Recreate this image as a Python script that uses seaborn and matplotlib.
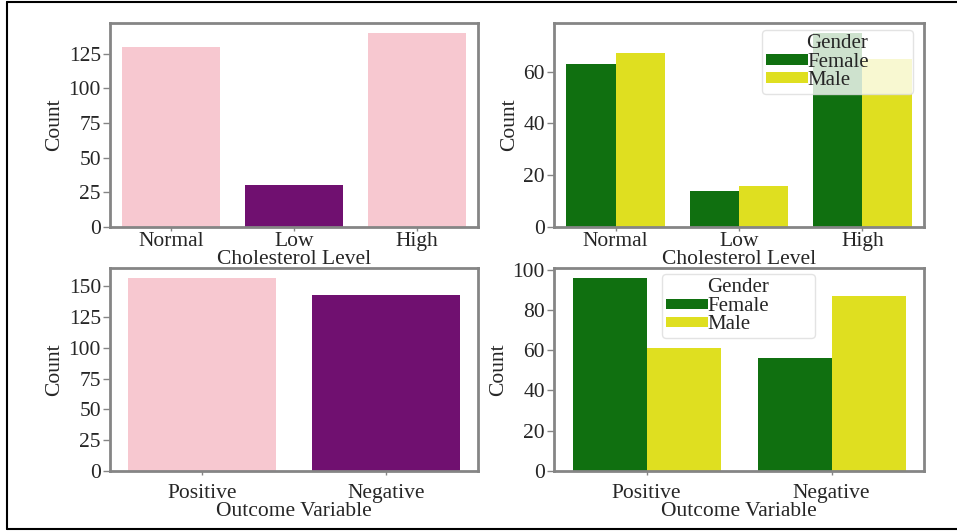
import matplotlib
matplotlib.use('Agg')
import matplotlib.pyplot as plt
import seaborn as sns
import pandas as pd
from matplotlib.lines import Line2D

# ---- data ----
chol_levels = ['Normal', 'Low', 'High']
chol_counts = [130, 30, 140]
genders = ['Female', 'Male']
chol_female = [63, 14, 75]
chol_male = [67, 16, 65]
outcomes = ['Positive', 'Negative']
outcome_counts = [157, 143]
outcome_female = [96, 56]
outcome_male = [61, 87]

sns.set_style('white')
plt.rcParams['font.family'] = ['Liberation Serif', 'DejaVu Serif']

FS = 15.5
SPINE = '#858585'

fig = plt.figure(figsize=(9.57, 5.31), dpi=100)
W, H = 957, 531


def ax_at(x0, y0, x1, y1):
    return fig.add_axes([x0 / W, 1 - y1 / H, (x1 - x0) / W, (y1 - y0) / H])


ax1 = ax_at(110, 23, 478, 227)
ax2 = ax_at(554, 23, 924, 227)
ax3 = ax_at(110, 268, 478, 471)
ax4 = ax_at(554, 268, 924, 471)

bar_kw = dict(linewidth=0, edgecolor='none')

df1 = pd.DataFrame({'Cholesterol Level': chol_levels, 'Count': chol_counts})
sns.barplot(data=df1, x='Cholesterol Level', y='Count', hue='Cholesterol Level',
            palette=['pink', 'purple', 'pink'], legend=False, ax=ax1, **bar_kw)

df2 = pd.DataFrame({
    'Cholesterol Level': chol_levels * 2,
    'Gender': [genders[0]] * 3 + [genders[1]] * 3,
    'Count': chol_female + chol_male,
})
sns.barplot(data=df2, x='Cholesterol Level', y='Count', hue='Gender',
            order=chol_levels, hue_order=genders,
            palette=['green', 'yellow'], ax=ax2, **bar_kw)

df3 = pd.DataFrame({'Outcome Variable': outcomes, 'Count': outcome_counts})
sns.barplot(data=df3, x='Outcome Variable', y='Count', hue='Outcome Variable',
            palette=['pink', 'purple'], legend=False, ax=ax3, **bar_kw)

df4 = pd.DataFrame({
    'Outcome Variable': outcomes * 2,
    'Gender': [genders[0]] * 2 + [genders[1]] * 2,
    'Count': outcome_female + outcome_male,
})
sns.barplot(data=df4, x='Outcome Variable', y='Count', hue='Gender',
            order=outcomes, hue_order=genders,
            palette=['green', 'yellow'], ax=ax4, **bar_kw)

ax1.set_yticks(range(0, 126, 25))
ax3.set_yticks(range(0, 151, 25))
ax2.set_yticks(range(0, 61, 20))
ax4.set_yticks(range(0, 101, 20))

leg_kw = dict(title='Gender', fontsize=15, title_fontsize=15, handlelength=2.0,
              handleheight=0.4, handletextpad=0.0, labelspacing=-0.05,
              framealpha=0.8, borderpad=0.2, borderaxespad=0.0, frameon=True,
              mode='expand', loc='upper left')
sns.move_legend(ax2, bbox_to_anchor=(0.562, 0.0, 0.408, 0.966), **leg_kw)
sns.move_legend(ax4, bbox_to_anchor=(0.292, 0.0, 0.413, 0.97), **leg_kw)

for ax, xpad in ((ax1, 0.5), (ax2, 0.5), (ax3, 6.5), (ax4, 6.5)):
    for sp in ax.spines.values():
        sp.set_visible(True)
        sp.set_color(SPINE)
        sp.set_linewidth(2)
    ax.tick_params(axis='y', which='both', left=True, length=5, width=1,
                   color=SPINE, labelsize=FS, pad=1.5)
    ax.tick_params(axis='x', which='both', bottom=True, length=3, width=1,
                   color=SPINE, labelsize=FS, pad=xpad)
    ax.set_ylabel('Count', fontsize=FS, labelpad=3)
    ax.xaxis.label.set_size(FS)
    ax.xaxis.labelpad = -0.5
    leg = ax.get_legend()
    if leg is not None:
        leg.get_frame().set_edgecolor('#dddddd')
        leg._legend_box.sep = 0

# outer frame
fig.add_artist(Line2D([7 / W, 7 / W], [1 - 1.5 / H, 1 - 529 / H], color='black', lw=1.5))
fig.add_artist(Line2D([7 / W, 1], [1 - 1.5 / H, 1 - 1.5 / H], color='black', lw=1.5))
fig.add_artist(Line2D([7 / W, 1], [1 - 529 / H, 1 - 529 / H], color='black', lw=1.5))

fig.savefig('out.png', dpi=100)
